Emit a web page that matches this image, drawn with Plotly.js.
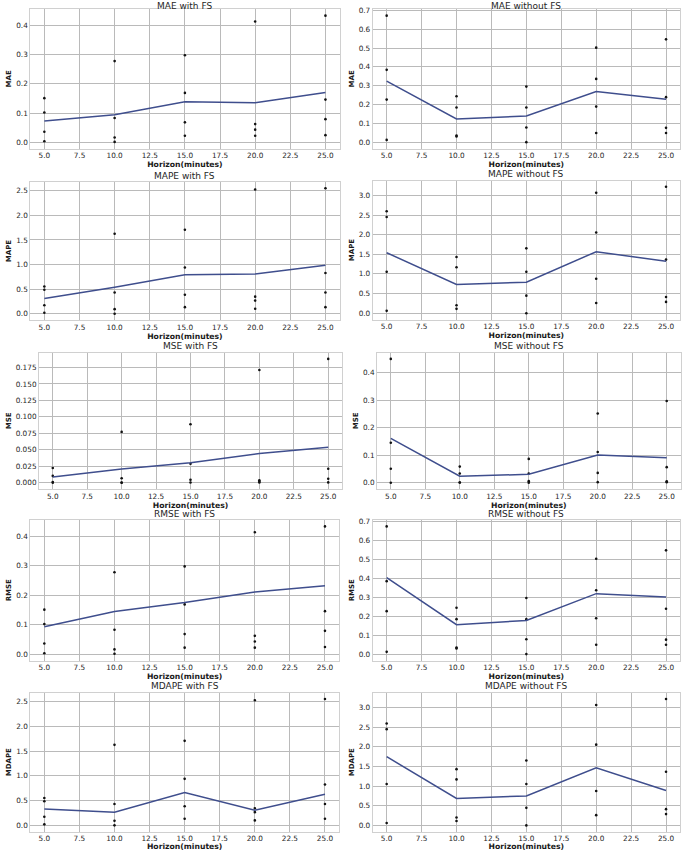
<!DOCTYPE html>
<html>
<head>
<meta charset="utf-8">
<script src="https://cdn.plot.ly/plotly-3.0.1.min.js"></script>
<style>html,body{margin:0;padding:0;background:#fff;}#chart{width:685px;height:851px;}</style>
</head>
<body>
<div id="chart"></div>
<script>
// ---------- DATA ----------
const horizon = [5, 10, 15, 20, 25];

const maeFsPts = [[0.151,0.102,0.036,0.003],[0.278,0.083,0.016,0.001],[0.298,0.169,0.068,0.022],[0.414,0.062,0.043,0.022],[0.434,0.146,0.079,0.024]];
const maeFsLine = [0.073, 0.094, 0.139, 0.135, 0.170];

const maeNoFsPts = [[0.672,0.384,0.226,0.012],[0.244,0.184,0.035,0.030],[0.295,0.184,0.078,0.000],[0.502,0.336,0.189,0.049],[0.546,0.239,0.076,0.049]];
const maeNoFsLine = [0.324, 0.123, 0.139, 0.269, 0.228];

const mapeFsPts = [[0.553,0.487,0.173,0.020],[1.627,0.433,0.093,0.000],[1.707,0.940,0.387,0.133],[2.527,0.347,0.267,0.100],[2.553,0.827,0.433,0.133]];
const mapeFsLine = [0.31, 0.54, 0.792, 0.81, 0.987];

const mapeNoFsPts = [[2.595,2.452,1.053,0.059],[1.433,1.171,0.202,0.110],[1.652,1.053,0.447,0.000],[3.067,2.056,0.876,0.261],[3.219,1.365,0.413,0.287]];
const mapeNoFsLine = [1.54, 0.73, 0.79, 1.566, 1.322];

const mseFsPts = [[0.0225,0.0105,0.0013,0.0000],[0.0772,0.0068,0.0003,0.0000],[0.0888,0.0290,0.0046,0.0005],[0.1712,0.0038,0.0018,0.0005],[0.1880,0.0214,0.0062,0.0006]];
const mseFsLine = [0.0087, 0.0211, 0.0306, 0.0443, 0.0540];

const mseNoFsPts = [[0.451,0.146,0.051,0.0001],[0.059,0.034,0.0012,0.0009],[0.087,0.034,0.006,0.000],[0.252,0.112,0.036,0.0024],[0.298,0.057,0.0058,0.0024]];
const mseNoFsLine = [0.162, 0.024, 0.031, 0.101, 0.091];

const rmseFsPts = [[0.151,0.102,0.036,0.003],[0.278,0.083,0.016,0.001],[0.298,0.169,0.068,0.022],[0.414,0.062,0.043,0.022],[0.434,0.146,0.079,0.024]];
const rmseFsLine = [0.093, 0.145, 0.175, 0.211, 0.232];

const rmseNoFsPts = [[0.672,0.384,0.226,0.012],[0.244,0.184,0.035,0.030],[0.295,0.184,0.078,0.000],[0.502,0.336,0.189,0.049],[0.546,0.239,0.076,0.049]];
const rmseNoFsLine = [0.402, 0.155, 0.177, 0.318, 0.301];

const mdapeFsPts = [[0.553,0.487,0.173,0.020],[1.627,0.433,0.093,0.000],[1.707,0.940,0.387,0.133],[2.527,0.347,0.267,0.100],[2.553,0.827,0.433,0.133]];
const mdapeFsLine = [0.33, 0.263, 0.663, 0.307, 0.63];

const mdapeNoFsPts = [[2.595,2.452,1.053,0.059],[1.433,1.171,0.202,0.110],[1.652,1.053,0.447,0.000],[3.067,2.056,0.876,0.261],[3.219,1.365,0.413,0.287]];
const mdapeNoFsLine = [1.75, 0.687, 0.75, 1.466, 0.889];

const panelTitles = ["MAE with FS","MAE without FS","MAPE with FS","MAPE without FS","MSE with FS","MSE without FS","RMSE with FS","RMSE without FS","MDAPE with FS","MDAPE without FS"];
const yLabels = ["MAE","MAE","MAPE","MAPE","MSE","MSE","RMSE","RMSE","MDAPE","MDAPE"];
const xLabel = "Horizon(minutes)";

// ---------- LAYOUT HELPERS ----------
const W = 685, H = 851;
const panels = [
  {pts: maeFsPts, line: maeFsLine, box: [30.3, 339.5, 9.3, 148.5], yr: [-0.0217, 0.4557], dt: 0.1, fmt: '.1f'},
  {pts: maeNoFsPts, line: maeNoFsLine, box: [372.7, 680, 9.3, 148.5], yr: [-0.0336, 0.7056], dt: 0.1, fmt: '.1f'},
  {pts: mapeFsPts, line: mapeFsLine, box: [30.3, 339.5, 182, 320], yr: [-0.128, 2.68], dt: 0.5, fmt: '.1f'},
  {pts: mapeNoFsPts, line: mapeNoFsLine, box: [372.7, 680, 180.5, 319.5], yr: [-0.161, 3.38], dt: 0.5, fmt: '.1f'},
  {pts: mseFsPts, line: mseFsLine, box: [39, 342, 352.7, 489], yr: [-0.0094, 0.1974], dt: 0.025, fmt: '.3f'},
  {pts: mseNoFsPts, line: mseNoFsLine, box: [377, 680.5, 352.7, 489], yr: [-0.0225, 0.4735], dt: 0.1, fmt: '.1f'},
  {pts: rmseFsPts, line: rmseFsLine, box: [30.3, 339, 520, 660.5], yr: [-0.0217, 0.4557], dt: 0.1, fmt: '.1f'},
  {pts: rmseNoFsPts, line: rmseNoFsLine, box: [372.7, 680, 520, 660.5], yr: [-0.0336, 0.7056], dt: 0.1, fmt: '.1f'},
  {pts: mdapeFsPts, line: mdapeFsLine, box: [30.3, 339, 692.7, 831.7], yr: [-0.128, 2.68], dt: 0.5, fmt: '.1f'},
  {pts: mdapeNoFsPts, line: mdapeNoFsLine, box: [372.7, 680, 692.7, 831.7], yr: [-0.161, 3.38], dt: 0.5, fmt: '.1f'}
];

const FONT = "DejaVu Sans, Verdana, sans-serif";
const gridColor = '#bababa';
const lineColor = '#3f4e8d';

const data = [];
const layout = {
  width: W, height: H, autosize: false,
  margin: {l: 0, r: 0, t: 0, b: 0, pad: 0},
  paper_bgcolor: '#ffffff', plot_bgcolor: '#ffffff',
  showlegend: false,
  font: {family: FONT, color: '#262626'},
  annotations: []
};

panels.forEach((p, i) => {
  const n = i + 1;
  const xa = n === 1 ? 'x' : 'x' + n;
  const ya = n === 1 ? 'y' : 'y' + n;
  const xs = [], ys = [];
  horizon.forEach((h, k) => { p.pts[k].forEach(v => { xs.push(h); ys.push(v); }); });
  data.push({type: 'scatter', mode: 'markers', x: xs, y: ys, xaxis: xa, yaxis: ya,
    marker: {color: '#111111', size: 2.6}, hoverinfo: 'skip'});
  data.push({type: 'scatter', mode: 'lines', x: horizon, y: p.line, xaxis: xa, yaxis: ya,
    line: {color: lineColor, width: 1.5}});
  const [l, r, t, b] = p.box;
  layout['xaxis' + (n === 1 ? '' : n)] = {
    domain: [l / W, r / W], anchor: ya, range: [4, 26],
    tick0: 5, dtick: 2.5, tickformat: '.1f', ticks: '',
    showgrid: true, gridcolor: gridColor, gridwidth: 1, zeroline: false,
    showline: true, mirror: true, linecolor: '#d0d0d0', linewidth: 1,
    tickfont: {family: FONT, size: 7.3, color: '#262626'},
    title: {text: '<b>' + xLabel + '</b>', font: {family: FONT, size: 7.7, color: '#1a1a1a'}, standoff: 1},
    automargin: false, fixedrange: true
  };
  layout['yaxis' + (n === 1 ? '' : n)] = {
    domain: [1 - b / H, 1 - t / H], anchor: xa, range: p.yr,
    tick0: 0, dtick: p.dt, tickformat: p.fmt, ticks: '',
    showgrid: true, gridcolor: gridColor, gridwidth: 1, zeroline: false,
    showline: true, mirror: true, linecolor: '#d0d0d0', linewidth: 1,
    tickfont: {family: FONT, size: 7.3, color: '#262626'},
    title: {text: '<b>' + yLabels[i] + '</b>', font: {family: FONT, size: 7, color: '#1a1a1a'}, standoff: 3},
    automargin: false, fixedrange: true
  };
  const firstRow = t < 20;
  layout.annotations.push({
    text: panelTitles[i], xref: 'paper', yref: 'paper',
    x: ((l + r) / 2) / W,
    y: firstRow ? 1 : 1 - (t - 6.5) / H,
    xanchor: 'center', yanchor: firstRow ? 'top' : 'middle', borderpad: 0,
    showarrow: false, font: {family: FONT, size: 9, color: '#262626'}
  });
});

Plotly.newPlot('chart', data, layout, {displayModeBar: false, staticPlot: true});
</script>
</body>
</html>
